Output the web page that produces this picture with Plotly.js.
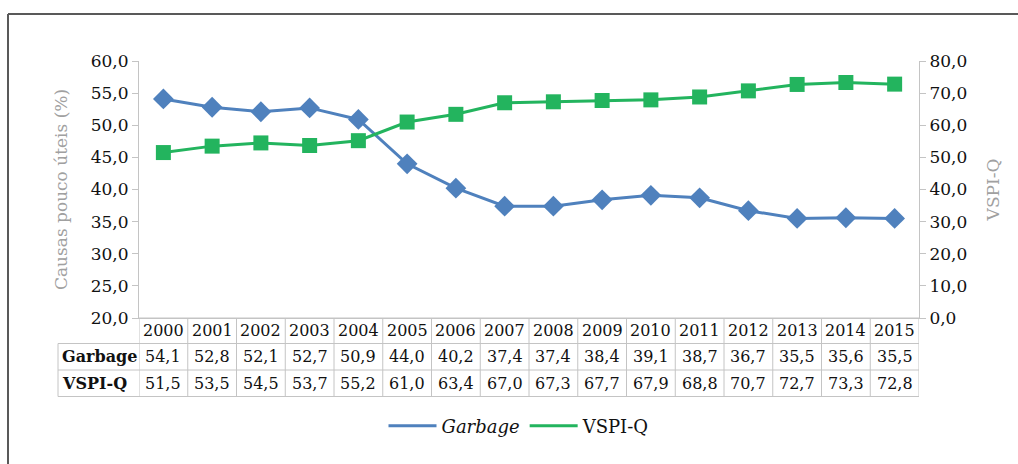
<!DOCTYPE html>
<html>
<head>
<meta charset="utf-8">
<script src="https://cdn.plot.ly/plotly-3.0.1.min.js"></script>
<style>html,body{margin:0;padding:0;background:#fff;}#chart{width:1018px;height:464px;}</style>
</head>
<body>
<div id="chart"></div>
<script>
const years = ['2000','2001','2002','2003','2004','2005','2006','2007','2008','2009','2010','2011','2012','2013','2014','2015'];
const garbage = [54.1,52.8,52.1,52.7,50.9,44.0,40.2,37.4,37.4,38.4,39.1,38.7,36.7,35.5,35.6,35.5];
const vspiq = [51.5,53.5,54.5,53.7,55.2,61.0,63.4,67.0,67.3,67.7,67.9,68.8,70.7,72.7,73.3,72.8];
const seriesNames = ['Garbage','VSPI-Q'];
const leftTitle = 'Causas pouco úteis (%)';
const rightTitle = 'VSPI-Q';

const W = 1018, H = 464;
const L = 139, R = 919, T = 61, B = 318;
const pw = R - L, ph = B - T;
const FONT = 'DejaVu Serif, Liberation Serif, serif';
const BLUE = '#4f81bd', GREEN = '#23b45e', GRID = '#c4c4c4';

const px2x = p => (p - L) / pw;
const py2y = p => (B - p) / ph;
const fmt = v => v.toFixed(1).replace('.', ',');

const traces = [
  {x: years, y: garbage, name: '<i>' + seriesNames[0] + '</i>', type: 'scatter', mode: 'lines+markers',
   line: {color: BLUE, width: 3}, marker: {symbol: 'diamond', size: 16, color: BLUE}, yaxis: 'y', showlegend: false, cliponaxis: false},
  {x: years, y: vspiq, name: seriesNames[1], type: 'scatter', mode: 'lines+markers',
   line: {color: GREEN, width: 3}, marker: {symbol: 'square', size: 15, color: GREEN}, yaxis: 'y2', showlegend: false, cliponaxis: false},
  {x: [years[0]], y: [null], name: '<i>' + seriesNames[0] + '</i>', type: 'scatter', mode: 'lines', line: {color: BLUE, width: 3}, yaxis: 'y', showlegend: true},
  {x: [years[0]], y: [null], name: seriesNames[1], type: 'scatter', mode: 'lines', line: {color: GREEN, width: 3}, yaxis: 'y2', showlegend: true}
];

const shapes = [];
const annotations = [];
const rowTops = [318, 343.5, 370, 396.5];
const labelLeft = 58;
shapes.push({type: 'line', xref: 'paper', yref: 'paper', x0: 0, x1: 1, y0: py2y(rowTops[0]), y1: py2y(rowTops[0]), line: {color: GRID, width: 1}});
for (let i = 1; i < rowTops.length; i++) {
  shapes.push({type: 'line', xref: 'paper', yref: 'paper', x0: px2x(labelLeft), x1: 1, y0: py2y(rowTops[i]), y1: py2y(rowTops[i]), line: {color: GRID, width: 1}});
}
for (let i = 0; i <= years.length; i++) {
  shapes.push({type: 'line', xref: 'x', yref: 'paper', x0: i - 0.5, x1: i - 0.5, y0: py2y(rowTops[0]), y1: py2y(rowTops[3]), line: {color: GRID, width: 1}});
}
shapes.push({type: 'line', xref: 'paper', yref: 'paper', x0: px2x(labelLeft), x1: px2x(labelLeft), y0: py2y(rowTops[1]), y1: py2y(rowTops[3]), line: {color: GRID, width: 1}});
shapes.push({type: 'line', xref: 'paper', yref: 'paper', x0: px2x(8), x1: px2x(W + 5), y0: py2y(14), y1: py2y(14), line: {color: '#595959', width: 2}});
shapes.push({type: 'line', xref: 'paper', yref: 'paper', x0: px2x(8), x1: px2x(8), y0: py2y(14), y1: py2y(H + 5), line: {color: '#595959', width: 2}});

const tfont = {family: FONT, size: 16, color: '#111'};
const rowMid = i => py2y((rowTops[i] + rowTops[i + 1]) / 2);
years.forEach((yr, i) => {
  annotations.push({x: i, xref: 'x', y: rowMid(0), yref: 'paper', text: yr, showarrow: false, font: tfont, xanchor: 'center', yanchor: 'middle'});
  annotations.push({x: i, xref: 'x', y: rowMid(1), yref: 'paper', text: fmt(garbage[i]), showarrow: false, font: tfont, xanchor: 'center', yanchor: 'middle'});
  annotations.push({x: i, xref: 'x', y: rowMid(2), yref: 'paper', text: fmt(vspiq[i]), showarrow: false, font: tfont, xanchor: 'center', yanchor: 'middle'});
});
annotations.push({x: px2x(60), xref: 'paper', y: rowMid(1), yref: 'paper', text: '<b>' + seriesNames[0] + '</b>', showarrow: false, font: tfont, xanchor: 'left', yanchor: 'middle'});
annotations.push({x: px2x(60), xref: 'paper', y: rowMid(2), yref: 'paper', text: '<b>' + seriesNames[1] + '</b>', showarrow: false, font: tfont, xanchor: 'left', yanchor: 'middle'});

const layout = {
  width: W, height: H,
  margin: {l: L, r: W - R, t: T, b: H - B},
  paper_bgcolor: '#fff', plot_bgcolor: '#fff',
  separators: ', ',
  font: {family: FONT, size: 17, color: '#111'},
  showlegend: true,
  legend: {orientation: 'h', x: px2x(519), xanchor: 'center', y: py2y(426), yanchor: 'middle',
    font: {family: FONT, size: 18, color: '#111'}, itemwidth: 48, bgcolor: 'rgba(0,0,0,0)'},
  xaxis: {type: 'category', range: [-0.5, years.length - 0.5], showticklabels: false, showgrid: false, zeroline: false,
    showline: true, linecolor: GRID, ticks: '', fixedrange: true},
  yaxis: {range: [20, 60], dtick: 5, tickformat: '.1f', showgrid: false, zeroline: false, showline: true, linecolor: GRID,
    ticks: 'outside', ticklen: 6, tickcolor: GRID, tickfont: {family: FONT, size: 17, color: '#111'},
    title: {text: leftTitle, font: {family: FONT, size: 17, color: '#a0a0a0'}, standoff: 18}},
  yaxis2: {range: [0, 80], dtick: 10, tickformat: '.1f', overlaying: 'y', side: 'right', showgrid: false, zeroline: false,
    showline: true, linecolor: GRID, ticks: 'outside', ticklen: 6, tickcolor: GRID, tickfont: {family: FONT, size: 17, color: '#111'},
    title: {text: rightTitle, font: {family: FONT, size: 17, color: '#a0a0a0'}, standoff: 20}},
  shapes: shapes,
  annotations: annotations
};

Plotly.newPlot('chart', traces, layout, {displayModeBar: false, staticPlot: true});
</script>
</body>
</html>
